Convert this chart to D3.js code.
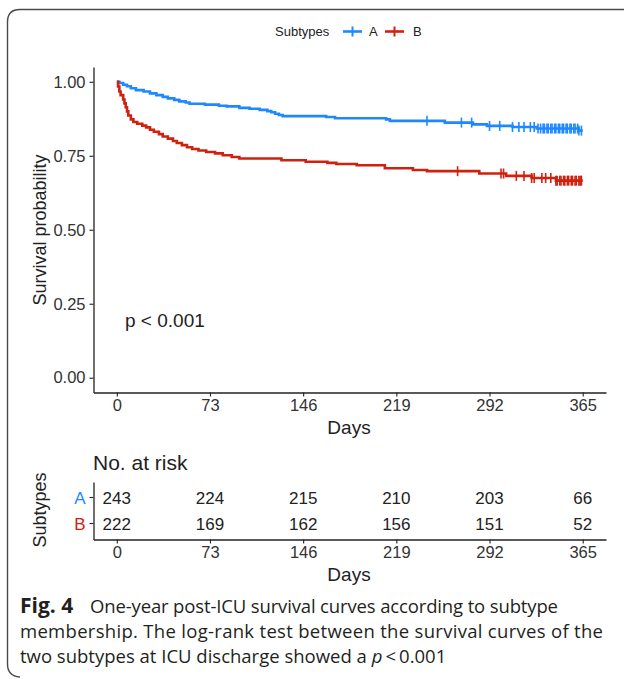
<!DOCTYPE html>
<html>
<head>
<meta charset="utf-8">
<script src="https://cdn.jsdelivr.net/npm/d3@7"></script>
<style>
  body { margin: 0; background: #fff; }
  svg { display: block; font-family: "Liberation Sans", Arial, sans-serif; }
</style>
</head>
<body>
<div id="chart"></div>
<script>
// Kaplan-Meier steps: [day, survival]
const stepsA = [[0, 1], [2, 0.996], [5, 0.99], [8, 0.985], [11, 0.978], [15, 0.972], [21, 0.967], [26, 0.961],
  [31, 0.955], [36, 0.949], [40, 0.944], [45, 0.939], [49, 0.934], [54, 0.93], [57, 0.926], [69, 0.923],
  [80, 0.919], [86, 0.917], [96, 0.912], [104, 0.909], [112, 0.905], [118, 0.901], [121, 0.897], [124, 0.892],
  [127, 0.888], [130, 0.884], [164, 0.881], [171, 0.877], [211, 0.873], [214, 0.868], [257, 0.862],
  [279, 0.856], [290, 0.851], [310, 0.847], [329, 0.842], [362, 0.835], [365, 0.835]];
const stepsB = [[0, 1], [1, 0.984], [2, 0.967], [3, 0.955], [5, 0.94], [6, 0.927], [7, 0.914], [8, 0.9],
  [9, 0.886], [11, 0.873], [13, 0.864], [16, 0.858], [20, 0.852], [23, 0.846], [26, 0.838], [29, 0.831],
  [33, 0.823], [36, 0.815], [40, 0.808], [44, 0.8], [47, 0.793], [51, 0.786], [55, 0.779], [59, 0.773],
  [64, 0.768], [70, 0.763], [77, 0.758], [83, 0.752], [90, 0.746], [96, 0.741], [129, 0.735], [148, 0.73],
  [165, 0.726], [172, 0.722], [188, 0.718], [210, 0.708], [232, 0.702], [243, 0.698], [284, 0.69],
  [305, 0.682], [325, 0.675], [344, 0.666], [365, 0.666]];
// censoring marks (days)
const censorA = [243, 270, 278, 292, 300, 310, 315, 319, 324, 327, 330, 332, 334, 335, 337, 338, 340, 341,
  343, 344, 346, 347, 349, 350, 352, 353, 355, 356, 358, 359, 361, 362, 364];
const censorB = [267, 301, 303, 313, 319, 325, 327, 333, 336, 340, 344, 345, 347, 348, 350, 351, 353, 354,
  356, 357, 359, 360, 362, 363, 364];

const groups = ['A', 'B'];
const colors = ['#1E88FF', '#D0200E'];
const xTicks = [0, 73, 146, 219, 292, 365];
const yTicks = [0, 0.25, 0.5, 0.75, 1];
const riskA = [243, 224, 215, 210, 203, 66];
const riskB = [222, 169, 162, 156, 151, 52];

const width = 624;
const height = 679;
const ink = '#222';

const svg = d3.select('#chart').append('svg')
  .attr('width', width)
  .attr('height', height);

// figure frame (only top & left visible)
svg.append('path')
  .attr('d', 'M626,9.5 L20,9.5 Q7.5,9.5 7.5,22 L7.5,664 Q7.5,676 20,677')
  .attr('fill', 'none')
  .attr('stroke', '#4a4a4a')
  .attr('stroke-width', 1.4);

// scales (ggplot 5% expansion)
const xScale = d3.scaleLinear().domain([-18.25, 383.25]).range([93.5, 606]);
const yScale = d3.scaleLinear().domain([-0.05, 1.05]).range([392.5, 67]);

const line = d3.line()
  .x(d => xScale(d[0]))
  .y(d => yScale(d[1]))
  .curve(d3.curveStepAfter);

function survAt(steps, t) {
  let s = 1;
  steps.forEach(d => { if (d[0] <= t) { s = d[1]; } });
  return s;
}

// legend
const leg = svg.append('g').attr('font-size', 13).attr('fill', ink);
leg.append('text').attr('x', 275).attr('y', 36).text('Subtypes');
[[343, 369], [385, 413]].forEach((p, i) => {
  leg.append('line').attr('x1', p[0]).attr('x2', p[0] + 19).attr('y1', 31.5).attr('y2', 31.5)
    .attr('stroke', colors[i]).attr('stroke-width', 2.6);
  leg.append('line').attr('x1', p[0] + 9.5).attr('x2', p[0] + 9.5).attr('y1', 26.5).attr('y2', 36.5)
    .attr('stroke', colors[i]).attr('stroke-width', 2);
  leg.append('text').attr('x', p[1]).attr('y', 36).text(groups[i]);
});

// axes
const xAxis = svg.append('g')
  .attr('transform', 'translate(0,392.5)')
  .call(d3.axisBottom(xScale).tickValues(xTicks).tickSize(4).tickSizeOuter(0).tickPadding(3));
const yAxis = svg.append('g')
  .attr('transform', 'translate(93.5,0)')
  .call(d3.axisLeft(yScale).tickValues(yTicks).tickFormat(d3.format('.2f')).tickSize(4).tickSizeOuter(0).tickPadding(4));
[xAxis, yAxis].forEach(a => {
  a.select('.domain').attr('stroke', ink).attr('stroke-width', 1.3);
  a.selectAll('.tick line').attr('stroke', ink).attr('stroke-width', 1.1);
  a.selectAll('.tick text').attr('fill', '#333').attr('font-size', 16.5)
    .attr('font-family', '"Liberation Sans", Arial, sans-serif');
});

svg.append('text').attr('x', 349).attr('y', 434).attr('text-anchor', 'middle')
  .attr('font-size', 19).attr('fill', ink).text('Days');
svg.append('text').attr('transform', 'translate(46,230) rotate(-90)').attr('text-anchor', 'middle')
  .attr('font-size', 18).attr('fill', ink).text('Survival probability');

// curves
[stepsA, stepsB].forEach((steps, i) => {
  svg.append('path')
    .attr('class', 'trajectory')
    .attr('d', line(steps))
    .attr('fill', 'none')
    .attr('stroke', colors[i])
    .attr('stroke-width', 2.6);
});
[[censorA, stepsA], [censorB, stepsB]].forEach((c, i) => {
  svg.append('g').selectAll('line').data(c[0]).enter().append('line')
    .attr('x1', d => xScale(d)).attr('x2', d => xScale(d))
    .attr('y1', d => yScale(survAt(c[1], d)) - 5)
    .attr('y2', d => yScale(survAt(c[1], d)) + 5)
    .attr('stroke', colors[i])
    .attr('stroke-width', 1.6);
});

svg.append('text').attr('x', 125).attr('y', 327).attr('font-size', 19).attr('fill', ink).text('p < 0.001');

// risk table
svg.append('text').attr('x', 93).attr('y', 470).attr('font-size', 21).attr('fill', ink).text('No. at risk');
const rowScale = d3.scalePoint().domain(['A', 'B']).range([497.5, 523.5]);
const tAxisX = svg.append('g')
  .attr('transform', 'translate(0,539.5)')
  .call(d3.axisBottom(xScale).tickValues(xTicks).tickSize(4).tickSizeOuter(0).tickPadding(3));
const tAxisY = svg.append('g')
  .attr('transform', 'translate(93.5,0)')
  .call(d3.axisLeft(d3.scaleLinear().domain([0, 1]).range([539.5, 482])).tickValues([]).tickSizeOuter(0));
tAxisY.selectAll('.t').data(groups).enter().append('line')
  .attr('x1', -4).attr('x2', 0).attr('y1', d => rowScale(d)).attr('y2', d => rowScale(d))
  .attr('stroke', ink).attr('stroke-width', 1.1);
tAxisY.selectAll('.lab').data(groups).enter().append('text')
  .attr('x', -8).attr('y', d => rowScale(d) + 6)
  .attr('text-anchor', 'end').attr('font-size', 17)
  .attr('fill', (d, i) => colors[i]).text(d => d);
[tAxisX, tAxisY].forEach(a => {
  a.select('.domain').attr('stroke', ink).attr('stroke-width', 1.3);
  a.selectAll('.tick line').attr('stroke', ink).attr('stroke-width', 1.1);
  a.selectAll('.tick text').attr('fill', '#333').attr('font-size', 16.5)
    .attr('font-family', '"Liberation Sans", Arial, sans-serif');
});
[riskA, riskB].forEach((row, i) => {
  svg.append('g').selectAll('text').data(row).enter().append('text')
    .attr('x', (d, j) => xScale(xTicks[j]))
    .attr('y', rowScale(groups[i]) + 6)
    .attr('text-anchor', 'middle').attr('font-size', 17).attr('fill', ink)
    .text(d => d);
});
svg.append('text').attr('x', 349).attr('y', 581).attr('text-anchor', 'middle')
  .attr('font-size', 19).attr('fill', ink).text('Days');
svg.append('text').attr('transform', 'translate(46,510) rotate(-90)').attr('text-anchor', 'middle')
  .attr('font-size', 18).attr('fill', ink).text('Subtypes');

// caption
const cap = svg.append('g')
  .attr('font-family', '"Open Sans", "Noto Sans", sans-serif')
  .attr('font-size', 18.5).attr('fill', '#231f20');
cap.append('text').attr('x', 20).attr('y', 613).attr('font-weight', 'bold').attr('font-size', 21)
  .text('Fig. 4');
cap.append('text').attr('x', 90).attr('y', 613)
  .attr('textLength', 468).attr('lengthAdjust', 'spacing')
  .text('One-year post-ICU survival curves according to subtype');
cap.append('text').attr('x', 20).attr('y', 638)
  .attr('textLength', 583).attr('lengthAdjust', 'spacing')
  .text('membership. The log-rank test between the survival curves of the');
const l3 = cap.append('text').attr('x', 20).attr('y', 663);
l3.append('tspan').text('two subtypes at ICU discharge showed a ');
l3.append('tspan').attr('font-style', 'italic').text('p');
l3.append('tspan').text('\u2009<\u20090.001');
</script>
</body>
</html>
